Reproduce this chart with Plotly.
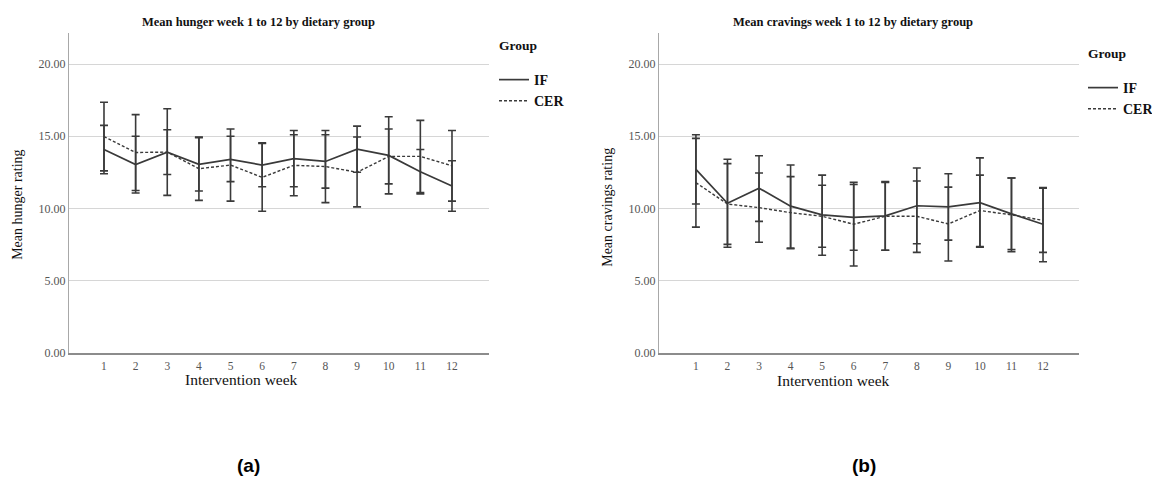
import plotly.graph_objects as go

# Page body adds an 8px margin; positions below are in window pixels.
OFF = 8
W, H = 1160 - OFF, 494 - OFF
VS = 0.987  # measured vertical compression of the captured page

weeks = list(range(1, 13))

# Hunger (panel a)
hunger_if_mean = [14.08, 13.03, 13.9, 13.05, 13.4, 13.0, 13.45, 13.25, 14.1, 13.67, 12.54, 11.55]
hunger_if_low = [12.4, 11.06, 10.9, 11.2, 11.85, 11.5, 11.5, 11.4, 12.5, 11.0, 11.0, 9.8]
hunger_if_high = [15.75, 15.0, 16.9, 14.9, 15.0, 14.55, 15.4, 15.1, 15.7, 16.35, 14.08, 13.3]
hunger_cer_mean = [14.98, 13.87, 13.9, 12.75, 13.0, 12.15, 12.98, 12.9, 12.5, 13.6, 13.6, 12.95]
hunger_cer_low = [12.6, 11.24, 12.35, 10.55, 10.5, 9.8, 10.87, 10.4, 10.1, 11.7, 11.1, 10.5]
hunger_cer_high = [17.35, 16.5, 15.45, 14.95, 15.5, 14.5, 15.1, 15.4, 14.95, 15.5, 16.1, 15.4]

# Cravings (panel b)
crav_if_mean = [12.7, 10.35, 11.4, 10.15, 9.55, 9.37, 9.48, 10.18, 10.1, 10.4, 9.62, 8.9]
crav_if_low = [10.3, 7.3, 9.1, 7.25, 6.75, 7.1, 7.1, 7.55, 7.8, 7.3, 7.15, 6.3]
crav_if_high = [15.1, 13.4, 13.65, 13.0, 12.3, 11.65, 11.85, 12.8, 12.4, 13.5, 12.1, 11.45]
crav_cer_mean = [11.78, 10.3, 10.05, 9.7, 9.45, 8.9, 9.45, 9.45, 8.92, 9.85, 9.55, 9.17]
crav_cer_low = [8.7, 7.5, 7.65, 7.2, 7.3, 6.0, 7.1, 6.95, 6.35, 7.35, 7.0, 6.95]
crav_cer_high = [14.85, 13.1, 12.45, 12.2, 11.6, 11.8, 11.8, 11.9, 11.47, 12.3, 12.1, 11.4]

y_ticks = [0, 5, 10, 15, 20]
y_tick_text = ["0.00", "5.00", "10.00", "15.00", "20.00"]

SERIF = "Liberation Serif, Times New Roman, serif"
LINE_COL = "#3a3a3a"

fig = go.Figure()


def add_series(xa, ya, mean, low, high, name, dash, legend, width):
    plus = [h - m for h, m in zip(high, mean)]
    minus = [m - l for m, l in zip(mean, low)]
    fig.add_trace(go.Scatter(
        x=weeks, y=mean, mode="lines", name="<b>" + name + "</b>",
        xaxis=xa, yaxis=ya, legend=legend,
        line=dict(color=LINE_COL, width=width, dash=dash),
        error_y=dict(type="data", symmetric=False, array=plus, arrayminus=minus,
                     color=LINE_COL, thickness=1.6, width=4),
    ))


add_series("x", "y", hunger_if_mean, hunger_if_low, hunger_if_high, "IF", "solid", "legend", 1.7)
add_series("x", "y", hunger_cer_mean, hunger_cer_low, hunger_cer_high, "CER", "3px,2px", "legend", 1.4)
add_series("x2", "y2", crav_if_mean, crav_if_low, crav_if_high, "IF", "solid", "legend2", 1.7)
add_series("x2", "y2", crav_cer_mean, crav_cer_low, crav_cer_high, "CER", "3px,2px", "legend2", 1.4)


def px(x):
    return (x - OFF) / W


def py(y):
    return 1 - (y / VS - OFF) / H


ydom = [py(353), py(33)]
common_x = dict(tickmode="array", tickvals=weeks, ticktext=[str(w) for w in weeks],
                showgrid=False, zeroline=False, showline=True, linecolor="#8c8c8c",
                linewidth=2, ticks="", ticklabelstandoff=2,
                tickfont=dict(family=SERIF, size=11.5, color="#555"))
common_y = dict(tickmode="array", tickvals=y_ticks, ticktext=y_tick_text, range=[0, 22.15],
                showgrid=True, gridcolor="#d6d6d6", gridwidth=1, zeroline=False,
                showline=True, linecolor="#a8a8a8", linewidth=1, ticks="",
                tickfont=dict(family=SERIF, size=12, color="#555"))

fig.update_layout(
    width=W, height=H,
    margin=dict(l=0, r=0, t=0, b=0),
    paper_bgcolor="white", plot_bgcolor="white",
    showlegend=True,
    xaxis=dict(domain=[px(69), px(489)], range=[-0.106, 13.17], anchor="y", **common_x),
    yaxis=dict(domain=ydom, anchor="x", **common_y),
    xaxis2=dict(domain=[px(659), px(1079)], range=[-0.17, 13.14], anchor="y2", **common_x),
    yaxis2=dict(domain=ydom, anchor="x2", **common_y),
    legend=dict(x=px(494), y=py(64), xanchor="left", yanchor="top",
                font=dict(family=SERIF, size=14, color="#111"),
                bgcolor="rgba(0,0,0,0)", itemwidth=30, tracegroupgap=0),
    legend2=dict(x=px(1083), y=py(72), xanchor="left", yanchor="top",
                 font=dict(family=SERIF, size=14, color="#111"),
                 bgcolor="rgba(0,0,0,0)", itemwidth=30, tracegroupgap=0),
)

annots = [
    dict(text="<b>Mean hunger week 1 to 12 by dietary group</b>", x=258, y=22, size=12.5, anchor="center"),
    dict(text="<b>Mean cravings week 1 to 12 by dietary group</b>", x=853, y=22, size=12.5, anchor="center"),
    dict(text="Intervention week", x=241, y=380, size=15.5, anchor="center"),
    dict(text="Intervention week", x=833, y=381, size=15.5, anchor="center"),
    dict(text="<b>Group</b>", x=497, y=45, size=13.5, anchor="left"),
    dict(text="<b>Group</b>", x=1086, y=53, size=13.5, anchor="left"),
]
for a in annots:
    fig.add_annotation(text=a["text"], x=px(a["x"]), y=py(a["y"]), xref="paper", yref="paper",
                       showarrow=False, xanchor=a["anchor"], yanchor="middle",
                       font=dict(family=SERIF, size=a["size"], color="#111"))

fig.add_annotation(text="Mean hunger rating", x=px(18), y=py(205), xref="paper", yref="paper",
                   showarrow=False, textangle=-90, xanchor="center", yanchor="middle",
                   font=dict(family=SERIF, size=14, color="#111"))
fig.add_annotation(text="Mean cravings rating", x=px(608), y=py(208), xref="paper", yref="paper",
                   showarrow=False, textangle=-90, xanchor="center", yanchor="middle",
                   font=dict(family=SERIF, size=14, color="#111"))

fig.add_annotation(text="<b>(a)</b>", x=px(248), y=py(466), xref="paper", yref="paper",
                   showarrow=False, xanchor="center", yanchor="middle",
                   font=dict(family="Liberation Sans, Arial, sans-serif", size=19, color="#000"))
fig.add_annotation(text="<b>(b)</b>", x=px(864), y=py(466), xref="paper", yref="paper",
                   showarrow=False, xanchor="center", yanchor="middle",
                   font=dict(family="Liberation Sans, Arial, sans-serif", size=19, color="#000"))

fig.write_html("out.html")
